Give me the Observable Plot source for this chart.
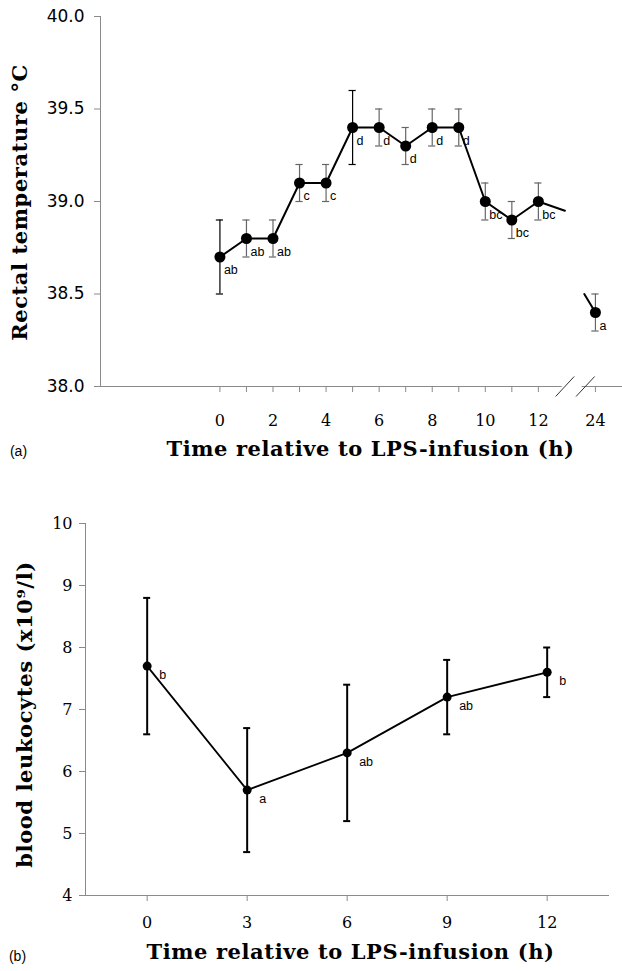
<!DOCTYPE html>
<html><head><meta charset="utf-8">
<script src="https://cdn.jsdelivr.net/npm/d3@7"></script>
<script src="https://cdn.jsdelivr.net/npm/@observablehq/plot@0.6"></script>
<style>
html,body{margin:0;padding:0;background:#fff;}
#chart svg{display:block;}
</style></head><body><div id="chart"></div>
<script>
// ---------- Panel (a): rectal temperature ----------
const hoursA = [0, 1, 2, 3, 4, 5, 6, 7, 8, 9, 10, 11, 12, 24];
const tempMean = [38.7, 38.8, 38.8, 39.1, 39.1, 39.4, 39.4, 39.3, 39.4, 39.4, 39.0, 38.9, 39.0, 38.4];
const tempSE = [0.2, 0.1, 0.1, 0.1, 0.1, 0.2, 0.1, 0.1, 0.1, 0.1, 0.1, 0.1, 0.1, 0.1];
const tempLetters = ["ab", "ab", "ab", "c", "c", "d", "d", "d", "d", "d", "bc", "bc", "bc", "a"];
const tempXTickHours = [0, 2, 4, 6, 8, 10, 12, 24];
const tempYTicks = [38.0, 38.5, 39.0, 39.5, 40.0];
const tempXLabel = "Time relative to LPS-infusion (h)";
const tempYLabel = "Rectal temperature °C";

// ---------- Panel (b): blood leukocytes ----------
const hoursB = [0, 3, 6, 9, 12];
const leukMean = [7.7, 5.7, 6.3, 7.2, 7.6];
const leukSE = [1.1, 1.0, 1.1, 0.6, 0.4];
const leukLetters = ["b", "a", "ab", "ab", "b"];
const leukYTicks = [4, 5, 6, 7, 8, 9, 10];
const leukXLabel = "Time relative to LPS-infusion (h)";
const leukYLabel = "blood leukocytes (x10\u2079/l)";

const GREY = "#8a8a8a";
const SERIF = "'DejaVu Serif', serif";
const SANS = "'Liberation Sans', Arial, sans-serif";
const VERD = "'DejaVu Sans', Verdana, sans-serif";

// broken time axis: hours up to 13 linear, then a compressed stretch ending at 24
const BREAK_END = 14.15, BREAK_SCALE = 0.21;
const pos = h => h <= 13 ? h : BREAK_END - (24 - h) * BREAK_SCALE;

const dataA = hoursA.map((h, i) => ({h, p: pos(h), m: tempMean[i], se: tempSE[i], l: tempLetters[i]}));
const v12 = tempMean[hoursA.indexOf(12)], v24 = tempMean[hoursA.indexOf(24)];
const interp = t => v12 + (v24 - v12) * (t - 12) / 12;
const lineA = [
  ...dataA.filter(d => d.h <= 12).map(d => ({p: d.p, m: d.m, s: "a"})),
  {p: pos(13), m: interp(13), s: "a"},
  {p: pos(22), m: interp(22), s: "b"},
  {p: pos(24), m: v24, s: "b"}
];
const xDomA = [-4.5, 15.17];
const widthA = 622, mlA = 100, mrA = 0;
const pxA = (widthA - mlA - mrA) / (xDomA[1] - xDomA[0]);
const capA = 3.6 / pxA;
const tickLabelA = new Map(tempXTickHours.map(h => [pos(h), String(h)]));
const slashes = [pos(13), pos(22) + 0.04];
const yPxA = (386 - 16) / 2;

const plotA = Plot.plot({
  width: widthA, height: 480,
  marginLeft: mlA, marginRight: mrA, marginTop: 16, marginBottom: 94,
  x: {domain: xDomA, axis: null},
  y: {domain: [38, 40], axis: null},
  style: {background: "white", color: "black", overflow: "visible"},
  marks: [
    Plot.ruleX([xDomA[0]], {stroke: GREY}),
    Plot.ruleY([{a: xDomA[0], b: pos(13) - 0.1}, {a: pos(22) - 0.08, b: xDomA[1]}], {y: () => 38, x1: "a", x2: "b", stroke: GREY}),
    Plot.axisY(tempYTicks, {tickSize: 6, tickPadding: 10, stroke: GREY, fill: "black",
      tickFormat: d3.format(".1f"), fontFamily: VERD, fontSize: 17, label: null}),
    Plot.axisX(hoursA.map(pos), {tickSize: 6, tickPadding: 22, stroke: GREY, fill: "black",
      tickFormat: p => tickLabelA.get(p) ?? "", fontFamily: SERIF, fontSize: 16, label: null}),
    Plot.link(slashes, {x1: p => p - 0.35, x2: p => p + 0.35, y1: () => 38 - 10 / yPxA, y2: () => 38 + 10 / yPxA, stroke: "#333", strokeWidth: 1}),
    Plot.ruleX(dataA.filter(d => d.se >= 0.2), {x: "p", y1: d => d.m - d.se, y2: d => d.m + d.se, stroke: "black", strokeWidth: 1.2}),
    Plot.ruleX(dataA.filter(d => d.se < 0.2), {x: "p", y1: d => d.m - d.se, y2: d => d.m + d.se, stroke: "#666", strokeWidth: 1.2}),
    Plot.ruleY(dataA, {y: d => d.m - d.se, x1: d => d.p - capA, x2: d => d.p + capA, stroke: d => d.se >= 0.2 ? "black" : "#666", strokeWidth: 1.2}),
    Plot.ruleY(dataA, {y: d => d.m + d.se, x1: d => d.p - capA, x2: d => d.p + capA, stroke: d => d.se >= 0.2 ? "black" : "#666", strokeWidth: 1.2}),
    Plot.line(lineA, {x: "p", y: "m", z: "s", stroke: "black", strokeWidth: 2}),
    Plot.dot(dataA, {x: "p", y: "m", r: 5.5, fill: "black", stroke: "none"}),
    Plot.text(dataA, {x: "p", y: "m", text: "l", dx: 4, dy: 13, textAnchor: "start", fontFamily: SANS, fontSize: 12.5, fill: "black"}),
    Plot.text([tempXLabel], {text: d => d, frameAnchor: "bottom", dx: 9, dy: 69, textAnchor: "middle", fontFamily: SERIF, fontWeight: "bold", fontSize: 21, fill: "black"}),
    Plot.text([tempYLabel], {text: d => d, frameAnchor: "left", rotate: -90, dx: -80, dy: 1, textAnchor: "middle", fontFamily: SERIF, fontWeight: "bold", fontSize: 21, fill: "black"}),
    Plot.text(["(a)"], {text: d => d, frameAnchor: "bottom-left", dx: -82, dy: 69, textAnchor: "middle", fontFamily: SANS, fontSize: 14, fill: "black"})
  ]
});

// ---------- Panel (b) plot ----------
const dataB = hoursB.map((h, i) => ({h, m: leukMean[i], se: leukSE[i], l: leukLetters[i]}));
const xDomB = [-1.85, 13.87];
const widthB = 622, mlB = 85, mrB = 13;
const pxB = (widthB - mlB - mrB) / (xDomB[1] - xDomB[0]);
const capB = 3.5 / pxB;

const plotB = Plot.plot({
  width: widthB, height: 491,
  marginLeft: mlB, marginRight: mrB, marginTop: 43, marginBottom: 76,
  x: {domain: xDomB, axis: null},
  y: {domain: [4, 10], axis: null},
  style: {background: "white", color: "black", overflow: "visible"},
  marks: [
    Plot.ruleX([xDomB[0]], {stroke: GREY}),
    Plot.ruleY([4], {stroke: GREY}),
    Plot.axisY(leukYTicks, {tickSize: 6, tickPadding: 7, stroke: GREY, fill: "black",
      tickFormat: d3.format("d"), fontFamily: SERIF, fontSize: 16, label: null}),
    Plot.axisX(hoursB, {tickSize: 6, tickPadding: 15, stroke: GREY, fill: "black",
      tickFormat: d3.format("d"), fontFamily: SERIF, fontSize: 16, label: null}),
    Plot.ruleX(dataB, {x: "h", y1: d => d.m - d.se, y2: d => d.m + d.se, stroke: "black", strokeWidth: 2}),
    Plot.ruleY(dataB, {y: d => d.m - d.se, x1: d => d.h - capB, x2: d => d.h + capB, stroke: "black", strokeWidth: 2}),
    Plot.ruleY(dataB, {y: d => d.m + d.se, x1: d => d.h - capB, x2: d => d.h + capB, stroke: "black", strokeWidth: 2}),
    Plot.line(dataB, {x: "h", y: "m", stroke: "black", strokeWidth: 1.8}),
    Plot.dot(dataB, {x: "h", y: "m", r: 4.5, fill: "black", stroke: "none"}),
    Plot.text(dataB, {x: "h", y: "m", text: "l", dx: 12, dy: 9, textAnchor: "start", fontFamily: SANS, fontSize: 12.5, fill: "black"}),
    Plot.text([leukXLabel], {text: d => d, frameAnchor: "bottom", dx: 3, dy: 63, textAnchor: "middle", fontFamily: SERIF, fontWeight: "bold", fontSize: 21, fill: "black"}),
    Plot.text([leukYLabel], {text: d => d, frameAnchor: "left", rotate: -90, dx: -60, dy: 5, textAnchor: "middle", fontFamily: SERIF, fontWeight: "bold", fontSize: 21, fill: "black"}),
    Plot.text(["(b)"], {text: d => d, frameAnchor: "bottom-left", dx: -68, dy: 65, textAnchor: "middle", fontFamily: SANS, fontSize: 14, fill: "black"})
  ]
});

// title letter spacing to match the wide bold serif of the original
function widenTitles(svg) {
  d3.select(svg).selectAll("text").filter(function () {
    const t = this.textContent;
    return t === tempXLabel || t === tempYLabel || t === leukYLabel;
  }).attr("letter-spacing", 0.6);
}
widenTitles(plotA);
widenTitles(plotB);

document.getElementById("chart").append(plotA, plotB);
</script>
</body></html>
